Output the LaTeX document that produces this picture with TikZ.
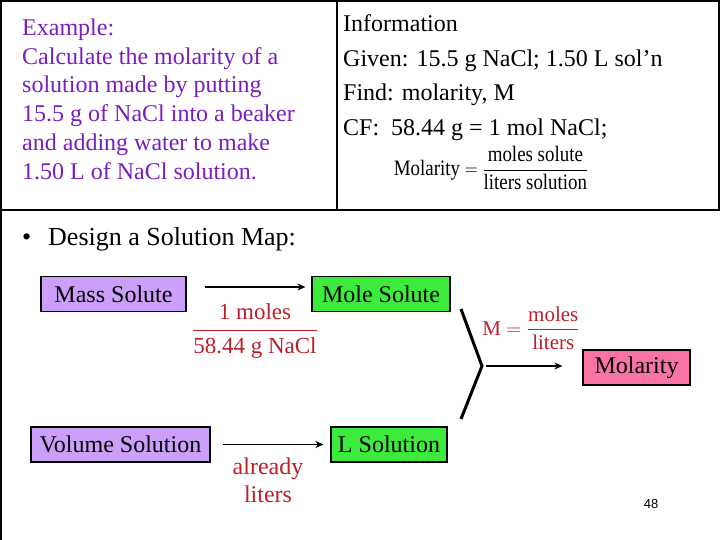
\documentclass[tikz,border=0pt]{standalone}
\usepackage{amsmath}
\usepackage{fontspec}
\setmainfont{Liberation Serif}
\setsansfont{Liberation Sans}
\usetikzlibrary{arrows.meta,positioning}
\definecolor{extxt}{RGB}{120,30,190}
\definecolor{cfred}{RGB}{190,30,40}
\definecolor{massc}{RGB}{204,160,250}
\definecolor{molec}{RGB}{60,235,60}
\definecolor{molarc}{RGB}{250,115,165}
\tikzset{
  box/.style={draw,line width=1.2pt,fill=#1,inner sep=0pt,minimum height=35pt,font=\fontsize{24}{28}\selectfont},
  box/.default={white},
  arr/.style={-{Stealth[length=8pt,width=7pt]},line width=1.6pt},
  lbl/.style={text=cfred,inner sep=0pt,font=\fontsize{23}{28}\selectfont},
  txt/.style={inner sep=0pt,align=left,anchor=north west,font=\fontsize{24}{28.8}\selectfont},
  frame/.style={line width=1.5pt},
}
\begin{document}
\begin{tikzpicture}[x=1pt,y=-1pt]
 \useasboundingbox (0,0) rectangle (720,540);
 % frame of the slide
 \draw[frame] (1,540) -- (1,1) -- (719,1) -- (719,210) -- (1,210);
 \draw[frame] (337,1) -- (337,210);
 % problem and information
 \node[txt,text=extxt] (prob) at (22,18.5) {Example:\\Calculate the molarity of a\\solution made by putting\\15.5 g of NaCl into a beaker\\and adding water to make\\1.50 L of NaCl solution.};
 \node[txt,font=\fontsize{24}{34.6}\selectfont] (info) at (343,14.5) {Information\\Given: 15.5 g NaCl; 1.50 L sol’n\\Find: molarity, M\\CF:~ 58.44 g = 1 mol NaCl;};
 \node[inner sep=0pt,font=\fontsize{22}{26}\selectfont] (mdef) at (491,168) {\scalebox{0.86}[1]{Molarity $=\dfrac{\text{moles solute}}{\text{liters solution}\rule{0pt}{17pt}}$}};
 % solution map
 \node[inner sep=0pt,anchor=base west,font=\fontsize{26}{30}\selectfont] (bul) at (22,245) {\textbullet};
 \node[inner sep=0pt,anchor=base west,font=\fontsize{26}{30}\selectfont] (title) at (48,245) {Design a Solution Map:};
 \node[box=massc,minimum width=145pt] (mass) at (113.5,294) {Mass Solute};
 \node[box=molec,minimum width=138pt] (mole) at (381,294) {Mole Solute};
 \node[box=molarc,minimum width=107pt] (molar) at (636.5,367.5) {Molarity};
 \node[box=massc,minimum width=179pt] (vol) at (120.5,444.5) {Volume Solution};
 \node[box=molec,minimum width=116pt] (lsol) at (389,444.5) {L Solution};
 \draw[arr,shorten <=18pt,shorten >=6pt] ([yshift=7pt]mass.east) -- ([yshift=7pt]mass.east -| mole.west);
 \draw[arr,shorten <=12pt,shorten >=7pt] (vol) -- (lsol);
 \node[lbl] (conv) at (255,331) {$\dfrac{\text{1 moles}}{\text{58.44 g NaCl}}$};
 \node[lbl,align=center,font=\fontsize{24}{28}\selectfont] (alr) at (268,480) {already\\liters};
 % join of the two paths
 \coordinate (join) at (482,366);
 \draw[line width=3pt] (461,309) -- (join) -- (461,419);
 \draw[arr,shorten <=4pt,shorten >=20pt] (join) -- (join -| molar.west);
 \node[lbl,font=\fontsize{21}{24}\selectfont] (mfrac) at (531,328) {M $=\dfrac{\text{moles}}{\text{liters}}$};
 \node[font=\sffamily\fontsize{13}{15}\selectfont] (pg) at (651,504) {48};
\end{tikzpicture}
\end{document}
